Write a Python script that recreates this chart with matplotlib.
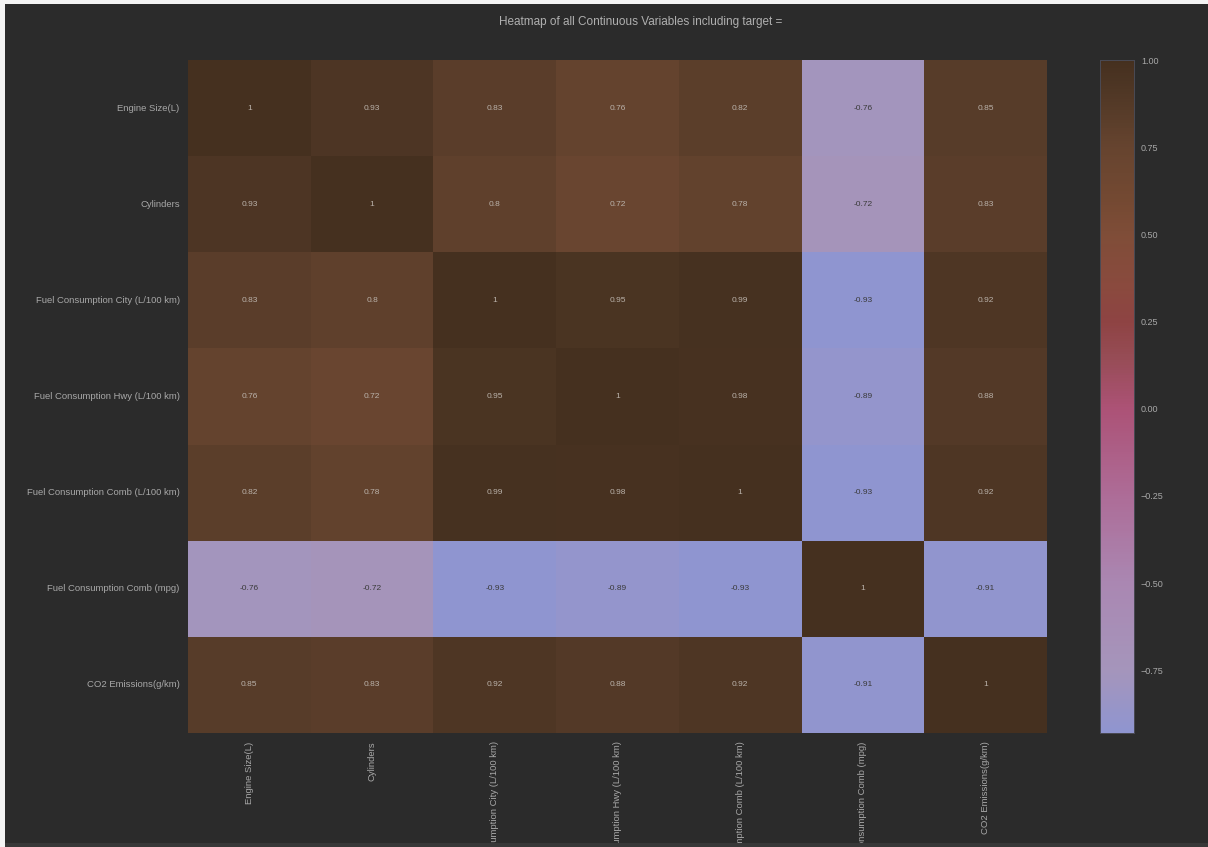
import numpy as np
import pandas as pd
import matplotlib
matplotlib.use("Agg")
import matplotlib.pyplot as plt
import seaborn as sns
from matplotlib.colors import LinearSegmentedColormap
from matplotlib.patches import Rectangle

plt.rcParams['font.family'] = ['Liberation Sans', 'DejaVu Sans']

columns = [
    'Engine Size(L)',
    'Cylinders',
    'Fuel Consumption City (L/100 km)',
    'Fuel Consumption Hwy (L/100 km)',
    'Fuel Consumption Comb (L/100 km)',
    'Fuel Consumption Comb (mpg)',
    'CO2 Emissions(g/km)',
]

engine_size = [1, 0.93, 0.83, 0.76, 0.82, -0.76, 0.85]
cylinders = [0.93, 1, 0.8, 0.72, 0.78, -0.72, 0.83]
fuel_city = [0.83, 0.8, 1, 0.95, 0.99, -0.93, 0.92]
fuel_hwy = [0.76, 0.72, 0.95, 1, 0.98, -0.89, 0.88]
fuel_comb = [0.82, 0.78, 0.99, 0.98, 1, -0.93, 0.92]
fuel_comb_mpg = [-0.76, -0.72, -0.93, -0.89, -0.93, 1, -0.91]
co2 = [0.85, 0.83, 0.92, 0.88, 0.92, -0.91, 1]

corr = pd.DataFrame(
    [engine_size, cylinders, fuel_city, fuel_hwy, fuel_comb, fuel_comb_mpg, co2],
    index=columns, columns=columns)

vmin, vmax = corr.values.min(), corr.values.max()

# palette anchors: correlation value -> colour
anchors = [
    (-0.93, '#8f95d0'),
    (-0.75, '#a595bb'),
    (-0.50, '#aa87b2'),
    (-0.25, '#ad6c97'),
    (0.00, '#ac5276'),
    (0.15, '#964c55'),
    (0.25, '#8e4343'),
    (0.35, '#8a4a3e'),
    (0.50, '#7f4d38'),
    (0.60, '#744932'),
    (0.75, '#66442f'),
    (0.90, '#513826'),
    (1.00, '#45301f'),
]
cmap = LinearSegmentedColormap.from_list(
    'corr', [((v - vmin) / (vmax - vmin), c) for v, c in anchors])

bg = '#2b2b2b'
fig = plt.figure(figsize=(12.08, 8.47), dpi=100, facecolor=bg)
W, H = 1208, 847
ax = fig.add_axes([188 / W, 1 - 733 / H, (1047 - 188) / W, (733 - 60) / H])
cax = fig.add_axes([1100 / W, 1 - 733 / H, (1134 - 1100) / W, (733 - 60) / H])

sns.heatmap(corr, annot=True, cmap=cmap, vmin=vmin, vmax=vmax, ax=ax, cbar_ax=cax,
            annot_kws={'size': 6})

for t in ax.texts:
    val = float(t.get_text())
    t.set_color('#3a3a3a' if val < 0 else '#bab2aa')

ax.set_facecolor(bg)
ax.tick_params(length=0, labelsize=6.8, colors='#a8a8a8', pad=6)
ax.set_xticklabels(columns, rotation=90)
ax.set_yticklabels(columns, rotation=0)
for lbl in ax.get_xticklabels():
    lbl.set_va('top')

cax.tick_params(length=0, labelsize=6.5, colors='#a8a8a8', pad=5)
cax.set_yticks([1.0, 0.75, 0.5, 0.25, 0.0, -0.25, -0.5, -0.75])
cax.set_yticklabels([f'{v:.2f}'.replace('-', '\u2212') for v in cax.get_yticks()])
cax.set_facecolor(bg)
for s in cax.spines.values():
    s.set_visible(True)
    s.set_color('#4a4a55')
    s.set_linewidth(0.6)

fig.text(641 / W, 1 - 22 / H, 'Heatmap of all Continuous Variables including target =',
         ha='center', va='center', fontsize=8.5, color='#b0b0b0')

# window frame around the figure
fig.add_artist(Rectangle((0, 0), 1, 4 / H, transform=fig.transFigure,
                         facecolor='#383838', edgecolor='none', zorder=10))
fig.add_artist(Rectangle((0, 1 - 4 / H), 1, 4 / H, transform=fig.transFigure,
                         facecolor='#f4f4f4', edgecolor='none', zorder=10))
fig.add_artist(Rectangle((0, 0), 5 / W, 1, transform=fig.transFigure,
                         facecolor='#f4f4f4', edgecolor='none', zorder=10))

fig.savefig('out.png', dpi=100, facecolor=bg)
